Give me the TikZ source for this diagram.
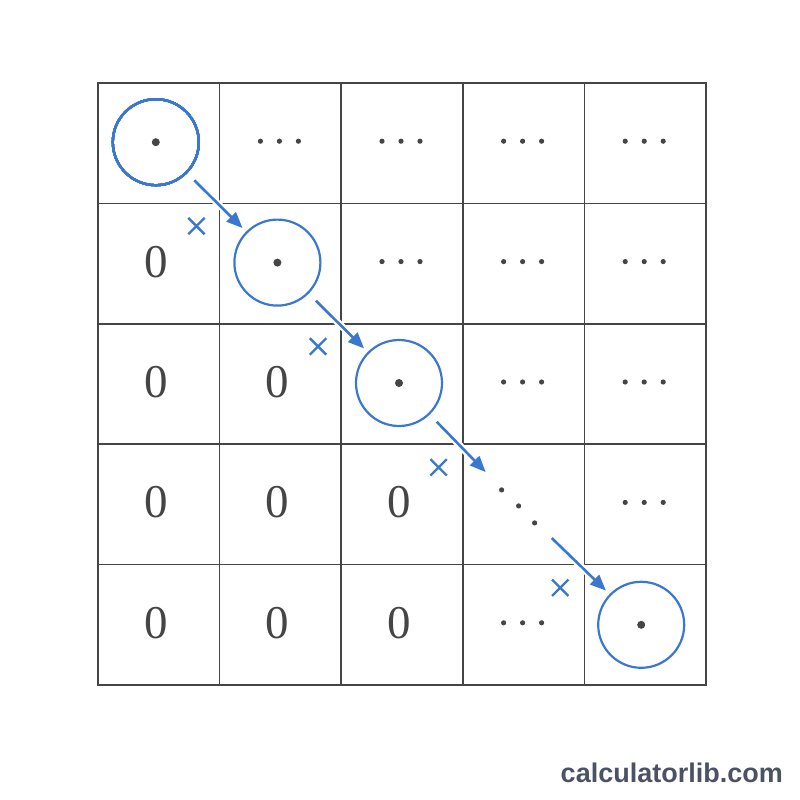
\documentclass[tikz,border=0pt]{standalone}
\usepackage{fontspec}
\newfontfamily\siteFont{Liberation Sans}
\newfontfamily\digitFont{Liberation Serif}
\usepackage{xcolor}
\definecolor{MarkBlue}{HTML}{3A78D0}
\definecolor{GridGray}{HTML}{454545}
\definecolor{SiteGray}{HTML}{4A5263}
\usepackage{tikz}
\usetikzlibrary{positioning}
\usetikzlibrary{shapes.misc}
\usetikzlibrary{arrows, arrows.meta}

\newcommand{\rowdots}[1]{\fill[GridGray] ([shift={(-20,-2)}]#1) circle (2.6pt) ([shift={(-1,-2)}]#1) circle (2.6pt) ([shift={(18,-2)}]#1) circle (2.6pt);}

\begin{document}
\begin{tikzpicture}[
    x=1pt, y=-1pt,
    cell/.style={rectangle,
    draw=GridGray,
    line width=1.7pt,
    minimum width=121.6pt,
    minimum height=120.4pt,
    inner sep=0pt},
    zero/.style={font=\digitFont\fontsize{47}{47}\selectfont, text=GridGray},
    pivot/.style={circle,
    draw=MarkBlue,
    line width=2.2pt,
    minimum size=86pt,
    inner sep=0pt},
    skip/.style={cross out, draw=MarkBlue, line width=2.4pt, minimum size=14pt, inner sep=0pt},
    walk/.style={draw=MarkBlue, line width=2.6pt, -{Triangle[length=16pt,width=13pt]},
    preaction={draw=white, line width=7pt},
    shorten <=10pt, shorten >=5pt}
    ]
    \useasboundingbox (0,0) rectangle (800,800);
    \foreach \r in {1,...,5} \foreach \c in {1,...,5}
      \node[cell] (m\r\c) at ({98+(\c-0.5)*121.6},{83+(\r-0.5)*120.4}) {};
    \foreach \r/\c in {2/1,3/1,3/2,4/1,4/2,4/3,5/1,5/2,5/3}
      \node[zero] (z\r\c) at ([shift={(-3,-2)}]m\r\c) {0};
    \foreach \r/\c in {1/2,1/3,1/4,1/5,2/3,2/4,2/5,3/4,3/5,4/5,5/4}
      \rowdots{m\r\c}
    \node[pivot] (c11) at ([shift={(-3,-1)}]m11) {};
    \node[pivot] (c22) at ([shift={(-3,-1)}]m22) {};
    \node[pivot] (c33) at ([shift={(-3,-1)}]m33) {};
    \node[pivot] (c55) at ([shift={(-4,0)}]m55) {};
    \foreach \n in {c11,c22,c33,c55} \fill[GridGray] (\n) circle (4pt);
    \node[circle, minimum size=90pt, inner sep=0pt] (dd) at ([shift={(-5,1.5)}]m44) {};
    \fill[GridGray] ([shift={(-17,-16)}]dd) circle (2.6pt) (dd) circle (2.6pt) ([shift={(16,17)}]dd) circle (2.6pt);
    \draw[walk] (c11) -- (c22);
    \draw[walk] (c22) -- (c33);
    \draw[walk, shorten >=2pt] (c33) -- (dd);
    \draw[walk, shorten <=1pt] (dd) -- (c55);
    \node[skip] (x1) at ([shift={(-24,23.5)}]m21.north east) {};
    \node[skip] (x2) at ([shift={(-24,23.5)}]m32.north east) {};
    \node[skip] (x3) at ([shift={(-25,24)}]m43.north east) {};
    \node[skip] (x4) at ([shift={(-25,24)}]m54.north east) {};
    \node[font=\siteFont\bfseries\fontsize{27}{27}\selectfont, text=SiteGray, anchor=base east, inner sep=0pt] (site) at (783,782) {calculatorlib.com};
  \end{tikzpicture}
\end{document}
